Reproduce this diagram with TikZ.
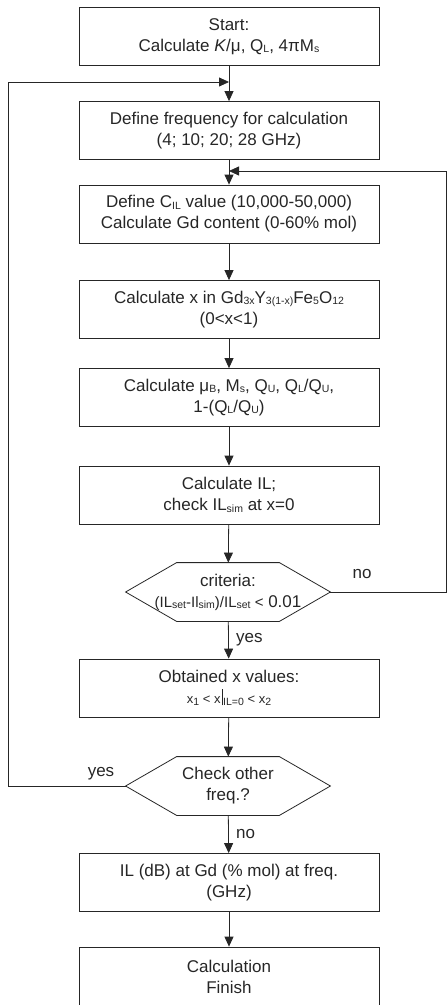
\documentclass[tikz,border=0pt]{standalone}
\usepackage{fontspec}
\setmainfont{Liberation Sans}
\usetikzlibrary{arrows.meta}
\newcommand{\lo}[1]{\raisebox{-0.15ex}{\fontsize{10.5}{10.5}\selectfont #1}}
\newcommand{\hexa}[1]{\draw (#1.west) -- ([xshift=51pt]#1.north west) -- ([xshift=-51pt]#1.north east) -- (#1.east) -- ([xshift=-51pt]#1.south east) -- ([xshift=51pt]#1.south west) -- cycle;}
\begin{document}
\begin{tikzpicture}[x=1pt, y=-1pt, line width=0.8pt, draw=black!85, text=black!85,
  box/.style={draw, minimum width=300pt, minimum height=58pt, inner sep=0pt, align=center, font=\fontsize{17}{21}\selectfont},
  decide/.style={minimum width=204pt, minimum height=58pt, inner sep=0pt, align=center, font=\fontsize{17}{21}\selectfont},
  lbl/.style={font=\fontsize{17}{18}\selectfont},
  arr/.style={-{Triangle[length=10pt,width=9pt]}}]
\useasboundingbox (0,0) rectangle (447,1005);
\path (229,36.5)  node[box] (start) {Start:\\ Calculate \textit{K}/μ, Q\lo{L}, 4πM\lo{s}};
\path (229,130.5) node[box] (freq) {Define frequency for calculation\\ (4; 10; 20; 28 GHz)};
\path (229,214)   node[box] (cil) {Define C\lo{IL} value (10,000-50,000)\\ Calculate Gd content (0-60\% mol)};
\path (229,309.5) node[box] (xcalc) {Calculate x in Gd\lo{3x}Y\lo{3(1-x)}Fe\lo{5}O\lo{12}\\ (0<x<1)};
\path (229,397.5) node[box] (mub) {Calculate μ\lo{B}, M\lo{s}, Q\lo{U}, Q\lo{L}/Q\lo{U},\\ 1-(Q\lo{L}/Q\lo{U})};
\path (229,495)   node[box] (ilcalc) {Calculate IL;\\ check IL\lo{sim} at x=0};
\path (228,592)   node[decide] (crit) {criteria:\\ {\fontsize{15}{15}\selectfont(IL\lo{set}-Il\lo{sim})/IL\lo{set} <} 0.01};
\path (229,688)   node[box] (obtain) {Obtained x values:\\ {\fontsize{13}{13}\selectfont x\lo{1} < x\kern1.5pt\rule[-0.2ex]{0.7pt}{2.4ex}\kern0.5pt\lo{IL=0} < x\lo{2}}};
\path (228,786)   node[decide] (check) {Check other\\ freq.?};
\path (229,882.5) node[box] (ildb) {IL (dB) at Gd (\% mol) at freq.\\ (GHz)};
\path (229,976.5) node[box, minimum height=59pt] (finish) {Calculation\\ Finish};
\hexa{crit}
\hexa{check}
% loops
\coordinate (j1) at (229,82);
\coordinate (j2) at (229,171);
\coordinate (lx) at (8,0);
\coordinate (rx) at (446,0);
\draw[arr] (start) -- (freq);
\draw[arr] (freq) -- (cil);
\draw[arr] (cil) -- (xcalc);
\draw[arr] (xcalc) -- (mub);
\draw[arr] (mub) -- (ilcalc);
\draw[arr] (ilcalc) -- (crit);
\draw[arr] (crit) -- node[lbl, right=4pt] {yes} (obtain);
\draw[arr] (obtain) -- (check);
\draw[arr] (check) -- node[lbl, right=4pt] {no} (ildb);
\draw[arr] (ildb) -- (finish);
\draw[arr] (crit.east) -- (crit.east -| rx) |- (j2);
\draw[arr] (check.west) -- (check.west -| lx) |- (j1);
\path (362,574) node[lbl] (nolbl) {no};
\path (101,774) node[lbl] (yeslbl) {yes};
\end{tikzpicture}
\end{document}
